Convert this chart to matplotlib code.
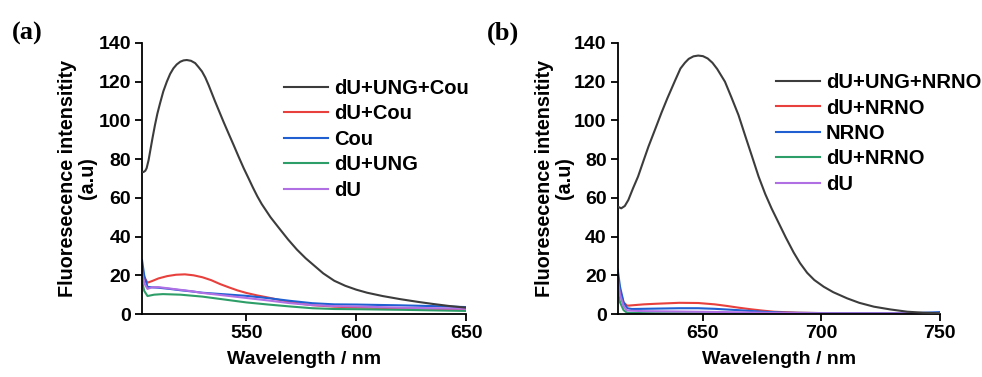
import matplotlib.pyplot as plt

plt.rcParams['font.family'] = ['Liberation Sans', 'DejaVu Sans']
plt.rcParams['font.weight'] = 'bold'

# ---- panel (a): coumarin probe ----
wl_a_black = [502.5, 503.1, 504, 504.6, 505.5, 506.2, 507.3, 508.4, 509.5, 510.7, 512.2, 513.8,
              515.3, 516.8, 518.3, 519.9, 521.4, 522.9, 524.8, 526.7, 528.2, 529.8, 531.3, 532.8,
              534.3, 535.8, 537.7, 539.6, 542, 544.2, 546.5, 548.8, 551, 553, 555, 557, 561,
              565, 569, 573, 577, 581, 585, 590, 595, 600, 605, 612, 620, 628, 635, 642, 650]
int_a_black = [73.5, 73.3, 74, 75.3, 79.5, 84, 91, 97.6, 103.5, 108.8, 115, 120,
               124, 126.9, 128.9, 130.3, 131, 131.2, 130.8, 129.6, 127.6, 125.3, 122.2, 118.3,
               114, 109.7, 104.5, 99.3, 93, 87.3, 81.2, 75.3, 70.1, 65.3, 60.8, 56.8, 50,
               44.2, 38.5, 33.3, 28.8, 24.9, 21.0, 17.2, 14.6, 12.6, 11.0, 9.3, 7.7, 6.3, 5.2, 4.2, 3.3]

wl_a_red = [502.5, 503.5, 505, 507, 510, 514, 518, 522, 526, 530, 534, 538, 542, 546, 550,
            555, 560, 565, 570, 575, 580, 590, 600, 620, 650]
int_a_red = [23, 19, 16.2, 17, 18.4, 19.6, 20.3, 20.5, 20, 19, 17.5, 15.5, 13.8, 12.2, 10.9,
             9.6, 8.5, 7.3, 6.2, 5.3, 4.6, 3.8, 3.4, 3.0, 2.4]

wl_a_blue = [502.5, 503.5, 505, 507, 510, 515, 520, 525, 530, 540, 550, 560, 570, 580, 590,
             600, 620, 635, 650]
int_a_blue = [28, 20, 14, 13.8, 13.6, 13, 12.3, 11.7, 11, 10.2, 9.4, 8.2, 6.8, 5.6, 5.0,
              4.9, 4.5, 4.1, 3.6]

wl_a_green = [502.5, 503.5, 505, 508, 512, 520, 530, 540, 550, 560, 570, 580, 590, 600, 620, 650]
int_a_green = [17, 12, 9.3, 10, 10.3, 10, 9.0, 7.5, 6.0, 4.9, 3.9, 3.0, 2.6, 2.5, 2.2, 1.6]

wl_a_purple = [502.5, 503.5, 505, 507, 510, 515, 520, 525, 530, 540, 550, 560, 570, 580, 590,
               600, 620, 650]
int_a_purple = [22, 16, 13, 13.8, 13.9, 13.2, 12.5, 11.8, 10.9, 9.6, 8.3, 7.0, 5.6, 4.6, 4.1,
                3.9, 3.3, 2.7]

labels_a = ['dU+UNG+Cou', 'dU+Cou', 'Cou', 'dU+UNG', 'dU']

# ---- panel (b): NRNO probe ----
wl_b_black = [614, 615.5, 617, 618.5, 620.5, 622.6, 625, 627, 630, 632.5, 635, 638.2, 640.5,
              642.4, 644, 646, 648, 650, 652, 654, 656, 659.3, 662, 665, 668, 670.7, 673.5, 676.3,
              679, 682, 685, 688.3, 691, 694, 697, 701, 705, 710.9, 716, 722.2, 729, 736.3, 743, 750]
int_b_black = [55.5, 54.6, 55.8, 58.9, 65, 71, 79.5, 86.5, 96, 104, 111.5, 120.5, 126.8,
               129.8, 131.8, 133.1, 133.5, 133.2, 132, 129.8, 126.6, 120, 112, 102.8, 91.5, 81.5, 71,
               62, 54.5, 47, 39.5, 31.8, 26.3, 21.3, 17.6, 14.1, 11.3, 8.1, 5.8, 3.8, 2.4, 1.2, 0.7, 0.4]

wl_b_red = [614, 615, 616.5, 618, 620, 625, 630, 640, 648, 655, 660, 665, 670, 675, 680, 690, 700, 750]
int_b_red = [20, 12, 6, 4.3, 4.5, 5.0, 5.3, 5.8, 5.7, 5.0, 4.2, 3.3, 2.5, 1.8, 1.2, 0.7, 0.5, 0.4]

wl_b_blue = [614, 615, 616.5, 618, 620, 630, 640, 648, 655, 665, 675, 685, 700, 740, 750]
int_b_blue = [23, 14, 6, 3, 2.6, 2.8, 3.0, 3.0, 2.7, 2.0, 1.2, 0.7, 0.5, 0.5, 1.0]

wl_b_green = [614, 615, 616.5, 618, 630, 660, 700, 750]
int_b_green = [12, 6, 2, 0.6, 0.4, 0.3, 0.2, 0.2]

wl_b_purple = [614, 615, 616.5, 618, 625, 640, 660, 680, 700, 750]
int_b_purple = [18, 10, 4, 1.8, 1.5, 1.3, 1.0, 0.6, 0.4, 0.4]

labels_b = ['dU+UNG+NRNO', 'dU+NRNO', 'NRNO', 'dU+NRNO', 'dU']

colors = ['#3c3c3c', '#e8403c', '#1f5fd2', '#2e9e68', '#b070e4']


def draw_panel(ax, series, labels, xlim, xticks, ylabel_x, legend_xy):
    lines = []
    for (x, y), lab, c in zip(series, labels, colors):
        line, = ax.plot(x, y, color=c, lw=1.5, label=lab)
        lines.append(line)
    # black curve on top
    lines[0].set_zorder(5)
    ax.set_xlim(*xlim)
    ax.set_ylim(0, 140)
    ax.set_xticks(xticks)
    ax.set_yticks(range(0, 141, 20))
    ax.spines['top'].set_visible(False)
    ax.spines['right'].set_visible(False)
    for s in ['left', 'bottom']:
        ax.spines[s].set_linewidth(1.3)
    ax.tick_params(direction='out', length=5, width=1.3, labelsize=14, pad=3)
    ax.set_xlabel('Wavelength / nm', fontsize=14, fontweight='bold')
    ax.set_ylabel('Fluoresecence intensitity\n(a.u)', fontsize=14.2, fontweight='bold',
                  linespacing=1.05)
    ax.yaxis.set_label_coords(ylabel_x, 0.5)
    ax.xaxis.set_label_coords(0.5, -0.137)
    ax.legend(loc='upper left', bbox_to_anchor=legend_xy, frameon=False, fontsize=14.5,
              handlelength=2.2, handletextpad=0.3, labelspacing=0.32, borderpad=0,
              borderaxespad=0)


fig = plt.figure(figsize=(9.82, 3.77), dpi=100)
ax1 = fig.add_axes([0.1446, 0.167, 0.33, 0.719])
ax2 = fig.add_axes([0.629, 0.167, 0.328, 0.719])

draw_panel(ax1,
           [(wl_a_black, int_a_black), (wl_a_red, int_a_red), (wl_a_blue, int_a_blue),
            (wl_a_green, int_a_green), (wl_a_purple, int_a_purple)],
           labels_a, (502.5, 650), [550, 600, 650], -0.14, (0.438, 0.867))
draw_panel(ax2,
           [(wl_b_black, int_b_black), (wl_b_red, int_b_red), (wl_b_blue, int_b_blue),
            (wl_b_green, int_b_green), (wl_b_purple, int_b_purple)],
           labels_b, (614, 750), [650, 700, 750], -0.135, (0.49, 0.889))

fig.text(0.028, 0.912, '(a)', family='Liberation Serif', fontweight='bold', fontsize=19,
         ha='center', va='center')
fig.text(0.512, 0.912, '(b)', family='Liberation Serif', fontweight='bold', fontsize=19,
         ha='center', va='center')

fig.savefig('out.png', dpi=100)
